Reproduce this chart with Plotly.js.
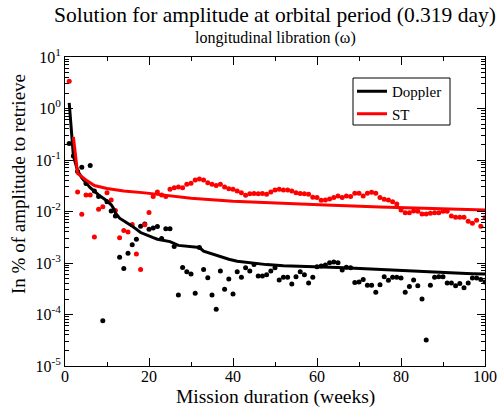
<!DOCTYPE html>
<html>
<head>
<meta charset="utf-8">
<script src="https://cdn.plot.ly/plotly-3.0.1.min.js"></script>
<style>html,body{margin:0;padding:0;background:#fff;}#chart{width:500px;height:408px;}</style>
</head>
<body>
<div id="chart"></div>
<script>
// Red dots (ST) – week, value
const stWeeks = [1,3,4,5,6,7,8,9,10,11,12,13,14,15,16,17,18,19,20,21,22,23,24,25,26,27,28,29,30,31,32,33,34,35,36,37,38,39,40,41,42,43,44,45,46,47,48,49,50,51,52,53,54,55,56,57,58,59,60,61,62,63,64,65,66,67,68,69,70,71,72,73,74,75,76,77,78,79,80,81,82,83,84,85,86,87,88,89,90,91,92,93,94,95,96,97,98,99,100];
const stValues = [3.4,0.024,0.0088,0.021,0.021,0.0032,0.0111,0.0123,0.023,0.0167,0.0105,0.0031,0.0043,0.0040,0.0056,0.0015,0.00075,0.0055,0.0096,0.0195,0.024,0.021,0.0195,0.027,0.029,0.030,0.029,0.0337,0.0352,0.041,0.0428,0.041,0.036,0.0337,0.032,0.0337,0.030,0.0277,0.027,0.025,0.0232,0.0206,0.0222,0.0224,0.0222,0.0224,0.0216,0.0239,0.0261,0.027,0.0261,0.0261,0.025,0.0232,0.0224,0.0222,0.0216,0.019,0.0188,0.0165,0.0167,0.0175,0.0188,0.020,0.0188,0.020,0.0195,0.0226,0.0226,0.020,0.0226,0.0236,0.0226,0.0188,0.0172,0.0167,0.0155,0.014,0.0107,0.0095,0.0095,0.0102,0.0101,0.0089,0.0089,0.0092,0.0095,0.0095,0.0101,0.0101,0.0082,0.0077,0.0077,0.0077,0.0065,0.0059,0.0068,0.0052,0.0076];

// Black dots (Doppler) – week, value
const dopWeeks = [1,2,3,4,5,6,7,8,9,10,11,12,13,14,15,16,17,18,19,20,21,22,23,24,25,26,27,28,29,30,31,32,33,34,35,36,37,38,39,40,41,42,43,44,45,46,47,48,49,50,51,52,53,54,55,56,57,58,59,60,61,62,63,64,65,66,67,68,69,70,71,72,73,74,75,76,77,78,79,80,81,82,83,84,85,86,87,88,89,90,91,92,93,94,95,96,97,98,99,100];
const dopValues = [0.21,0.12,0.06,0.072,0.035,0.078,0.025,0.0195,0.000076,0.0155,0.0102,0.0082,0.0013,0.00078,0.00154,0.00227,0.0029,0.0052,0.0057,0.0045,0.0048,0.0051,0.0030,0.0046,0.0046,0.0021,0.00024,0.00082,0.00068,0.00061,0.00026,0.0020,0.00075,0.00052,0.00024,0.000126,0.0007,0.00031,0.00049,0.00025,0.00068,0.00053,0.00081,0.0007,0.00094,0.00056,0.00056,0.00059,0.0007,0.00081,0.00047,0.00053,0.00053,0.00039,0.00054,0.00068,0.00059,0.00041,0.00053,0.00085,0.00087,0.00091,0.00101,0.00104,0.00101,0.00073,0.00083,0.00081,0.00042,0.00043,0.00048,0.00037,0.00037,0.00027,0.00038,0.00054,0.00046,0.00053,0.00053,0.00051,0.00027,0.00035,0.00047,0.00036,0.00020,0.000032,0.00037,0.00053,0.00054,0.00054,0.00041,0.00041,0.00036,0.00040,0.00033,0.00041,0.00051,0.00051,0.00048,0.00043];

// Doppler formal-error curve
const dopLineWeeks = [1,2,3,4,6,8,10,11,11.5,12,13,15,16,18,20,21,22,23,24,25,27,29,31,32,33,35,37,39,41,43,45,48,52,56,60,62,65,69,73,77,81,85,89,93,97,100];
const dopLineValues = [1.28,0.12,0.062,0.045,0.029,0.021,0.016,0.0135,0.0117,0.0094,0.0074,0.006,0.0052,0.0039,0.0033,0.0031,0.0029,0.0028,0.0027,0.0026,0.0022,0.0021,0.0020,0.0020,0.0017,0.0015,0.0013,0.00118,0.00108,0.00103,0.00098,0.00093,0.00088,0.00086,0.00086,0.00085,0.00082,0.00079,0.00076,0.00073,0.00070,0.00068,0.00066,0.00064,0.00062,0.00061];

// ST formal-error curve
const stLineWeeks = [2,3,5,7,10,14,19,25,30,40,50,62,75,87,100];
const stLineValues = [0.28,0.055,0.041,0.032,0.028,0.025,0.023,0.020,0.018,0.0158,0.0145,0.0134,0.0122,0.0114,0.0107];

// Tick labels
const xTickVals = [0, 20, 40, 60, 80, 100];
const xTickText = ['0', '20', '40', '60', '80', '100'];
const yTickVals = [1e-5, 1e-4, 1e-3, 1e-2, 1e-1, 1, 10];
const yTickText = ['10<sup>-5</sup>', '10<sup>-4</sup>', '10<sup>-3</sup>', '10<sup>-2</sup>', '10<sup>-1</sup>', '10<sup>0</sup>', '10<sup>1</sup>'];

const serif = 'Liberation Serif';

const traces = [
  {x: dopWeeks, y: dopValues, mode: 'markers', type: 'scatter', showlegend: false,
   marker: {color: '#000000', size: 5}},
  {x: stWeeks, y: stValues, mode: 'markers', type: 'scatter', showlegend: false,
   marker: {color: '#ff0000', size: 5}},
  {x: dopLineWeeks, y: dopLineValues, mode: 'lines', type: 'scatter', name: 'Doppler',
   line: {color: '#000000', width: 3}},
  {x: stLineWeeks, y: stLineValues, mode: 'lines', type: 'scatter', name: 'ST',
   line: {color: '#ff0000', width: 3}}
];

const py = p => (366 - p) / 309;
const px = p => (p - 65) / 420;

const layout = {
  width: 500, height: 408,
  margin: {l: 65, r: 15, t: 57, b: 42},
  paper_bgcolor: '#ffffff', plot_bgcolor: '#ffffff',
  font: {family: serif, color: '#000', size: 16},
  showlegend: true,
  legend: {x: px(352), y: py(75), xanchor: 'left', yanchor: 'top', borderwidth: 0,
           bgcolor: 'rgba(0,0,0,0)', font: {family: serif, size: 15}, tracegroupgap: 0},
  shapes: [
    {type: 'rect', xref: 'paper', yref: 'paper', x0: px(353), x1: px(450), y0: py(125), y1: py(78),
     line: {color: '#000', width: 1}, fillcolor: 'rgba(0,0,0,0)', layer: 'above'}
  ],
  xaxis: {range: [0, 100], tickmode: 'array', tickvals: xTickVals, ticktext: xTickText,
          ticks: 'inside', ticklen: 8, tickcolor: '#000', ticklabelstandoff: -4,
          showline: true, linecolor: '#000', linewidth: 1, mirror: 'ticks', showgrid: false, zeroline: false,
          tickfont: {family: serif, size: 16},
          minor: {dtick: 10, tick0: 0, ticks: 'inside', ticklen: 4, tickcolor: '#000', showgrid: false}},
  yaxis: {type: 'log', range: [-5, 1], tickmode: 'array', tickvals: yTickVals, ticktext: yTickText,
          ticks: 'inside', ticklen: 8,
          tickcolor: '#000', showline: true, linecolor: '#000', linewidth: 1, mirror: 'ticks', showgrid: false,
          zeroline: false, tickfont: {family: serif, size: 16},
          minor: {dtick: 'D1', ticks: 'inside', ticklen: 4, tickcolor: '#000', showgrid: false}},
  annotations: [
    {text: 'Solution for amplitude at orbital period (0.319 day)', xref: 'paper', yref: 'paper',
     x: 0.5, y: py(15), xanchor: 'center', yanchor: 'middle', showarrow: false,
     font: {family: serif, size: 21.5}},
    {text: 'longitudinal libration (ω)', xref: 'paper', yref: 'paper',
     x: 0.5, y: py(38), xanchor: 'center', yanchor: 'middle', showarrow: false,
     font: {family: serif, size: 16}},
    {text: 'Mission duration (weeks)', xref: 'paper', yref: 'paper',
     x: 0.5, y: py(397), xanchor: 'center', yanchor: 'middle', showarrow: false,
     font: {family: serif, size: 19.5}},
    {text: 'In % of amplitude to retrieve', xref: 'paper', yref: 'paper', textangle: -90,
     x: px(18), y: py(184), xanchor: 'center', yanchor: 'middle', showarrow: false,
     font: {family: serif, size: 19}}
  ]
};

Plotly.newPlot('chart', traces, layout, {displayModeBar: false, staticPlot: true});
</script>
</body>
</html>
